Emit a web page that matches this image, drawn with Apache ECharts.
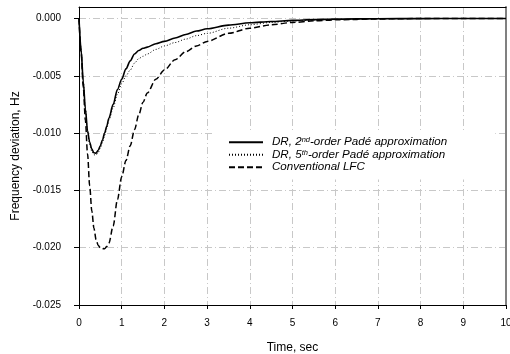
<!DOCTYPE html>
<html><head><meta charset="utf-8">
<script src="https://cdn.jsdelivr.net/npm/echarts@6/dist/echarts.min.js"></script>
<style>html,body{margin:0;padding:0;background:#fff}#c{width:510px;height:354px}</style>
</head><body><div id="c"></div>
<script>
var time = [0,0.05,0.1,0.15,0.2,0.25,0.3,0.35,0.4,0.45,0.5,0.55,0.6,0.65,0.7,0.8,0.9,1.0,1.1,1.2,1.3,1.4,1.5,1.6,1.8,2.0,2.25,2.5,2.75,3.0,3.5,4.0,4.5,5.0,5.5,6,7,8,9,10];
var pade2 = [0,-0.0028,-0.0055,-0.0079,-0.0098,-0.0108,-0.0114,-0.01172,-0.01175,-0.0115,-0.0111,-0.0106,-0.0100,-0.0094,-0.0087,-0.0075,-0.0062,-0.0053,-0.0044,-0.0037,-0.0031,-0.0028,-0.0026,-0.0025,-0.0022,-0.0020,-0.0017,-0.0014,-0.0011,-0.0009,-0.00058,-0.00038,-0.00026,-0.00017,-0.0001,-0.00006,-0.00002,-0.00001,0,0];
var pade5 = [0,-0.0028,-0.0055,-0.0079,-0.0099,-0.0110,-0.0116,-0.0119,-0.0119,-0.0117,-0.0113,-0.0108,-0.0102,-0.0096,-0.0089,-0.0078,-0.0066,-0.0057,-0.0050,-0.0045,-0.0039,-0.0035,-0.0033,-0.0031,-0.0027,-0.0024,-0.0021,-0.0018,-0.0015,-0.0013,-0.00085,-0.00055,-0.00035,-0.00022,-0.00014,-0.00008,-0.00003,-0.00001,0,0];
var conventional = [0,-0.0030,-0.0060,-0.0089,-0.0118,-0.0146,-0.0168,-0.0183,-0.0193,-0.0198,-0.0200,-0.0201,-0.0201,-0.0199,-0.0196,-0.0181,-0.0158,-0.0138,-0.0124,-0.0111,-0.0097,-0.0084,-0.0073,-0.0065,-0.0053,-0.0045,-0.0036,-0.0029,-0.0024,-0.0020,-0.0013,-0.00085,-0.00055,-0.00035,-0.00021,-0.00012,-0.00004,-0.00001,0,0];
var xTicks = [0,1,2,3,4,5,6,7,8,9,10];
var yTicks = [-0.025,-0.020,-0.015,-0.010,-0.005,0.000];

function pairs(v){ return time.map(function(t,i){ return [t, v[i]]; }); }
var font = 'Arial, "Liberation Sans", sans-serif';
var gridLine = {show:true, lineStyle:{color:'#c8c8c8', width:1, type:[7,3,1,3]}};
var chart = echarts.init(document.getElementById('c'), null, {renderer:'canvas'});
chart.setOption({
  animation:false,
  backgroundColor:'#fff',
  grid:{left:79, right:4, top:7, bottom:49, containLabel:false, outerBoundsMode:'none'},
  xAxis:[{
    type:'value', min:0, max:10, interval:1,
    name:'Time, sec', nameLocation:'middle', nameGap:37,
    nameTextStyle:{fontFamily:font, fontSize:12, color:'#000'},
    axisLine:{show:true, onZero:false, lineStyle:{color:'#000', width:1}},
    axisTick:{show:true, length:4, lineStyle:{color:'#000'}},
    axisLabel:{fontFamily:font, fontSize:10, color:'#000', margin:13,
      formatter:function(v){ return xTicks.indexOf(v) >= 0 ? String(v) : ''; }},
    splitLine:gridLine
  },{
    type:'value', position:'top', min:0, max:10,
    axisLine:{show:true, onZero:false, lineStyle:{color:'#000', width:1}},
    axisTick:{show:false}, axisLabel:{show:false}, splitLine:{show:false}
  }],
  yAxis:[{
    type:'value', min:-0.025, max:0.001, interval:0.005,
    name:'Frequency deviation, Hz', nameLocation:'middle', nameGap:57,
    nameTextStyle:{fontFamily:font, fontSize:12, color:'#000'},
    axisLine:{show:true, onZero:false, lineStyle:{color:'#000', width:1}},
    axisTick:{show:true, length:5, lineStyle:{color:'#000'}},
    axisLabel:{fontFamily:font, fontSize:10, color:'#000', margin:18, showMaxLabel:false,
      formatter:function(v){ var r = Math.round(v*1000)/1000; if (yTicks.indexOf(r) < 0 || Math.abs(v - r) > 1e-9) return ''; return r.toFixed(3); }},
    splitLine:gridLine
  },{
    type:'value', position:'right', min:-0.025, max:0.001,
    axisLine:{show:true, onZero:false, lineStyle:{color:'#808080', width:2}},
    axisTick:{show:false}, axisLabel:{show:false}, splitLine:{show:false}
  }],
  legend:{
    orient:'vertical', left:213, top:130,
    backgroundColor:'#fff', padding:[6,48,6,15], itemGap:0,
    itemWidth:34, itemHeight:10,
    itemStyle:{opacity:0},
    textStyle:{fontFamily:font, fontSize:11.6, fontStyle:'italic', color:'#000', lineHeight:12.5,
      rich:{f:{fontFamily:font, fontSize:11.6, fontStyle:'italic', padding:[0,0,0,4], lineHeight:12.5},
            a:{fontFamily:font, fontSize:11.6, fontStyle:'italic', lineHeight:12.5},
            s:{fontFamily:font, fontSize:7.5, fontStyle:'italic', verticalAlign:'top', lineHeight:2}}},
    data:['p2','p5','conv'],
    formatter:function(n){
      if (n === 'p2') return '{f|DR, 2}{s|nd}{a|-order Padé approximation}';
      if (n === 'p5') return '{f|DR, 5}{s|th}{a|-order Padé approximation}';
      return '{f|Conventional LFC}';
    }
  },
  series:[
    {name:'p2', type:'line', data:pairs(pade2), showSymbol:false, symbol:'none', smooth:0.3, smoothMonotone:'x',
     itemStyle:{color:'#000'}, lineStyle:{color:'#000', width:1.6, type:'solid'}, z:4},
    {name:'p5', type:'line', data:pairs(pade5), showSymbol:false, symbol:'none', smooth:0.3, smoothMonotone:'x',
     itemStyle:{color:'#000'}, lineStyle:{color:'#000', width:1, type:[1,2]}, z:3},
    {name:'conv', type:'line', data:pairs(conventional), showSymbol:false, symbol:'none', smooth:0.3, smoothMonotone:'x',
     itemStyle:{color:'#000'}, lineStyle:{color:'#000', width:1.5, type:[6,3]}, z:3}
  ]
});
</script></body></html>
